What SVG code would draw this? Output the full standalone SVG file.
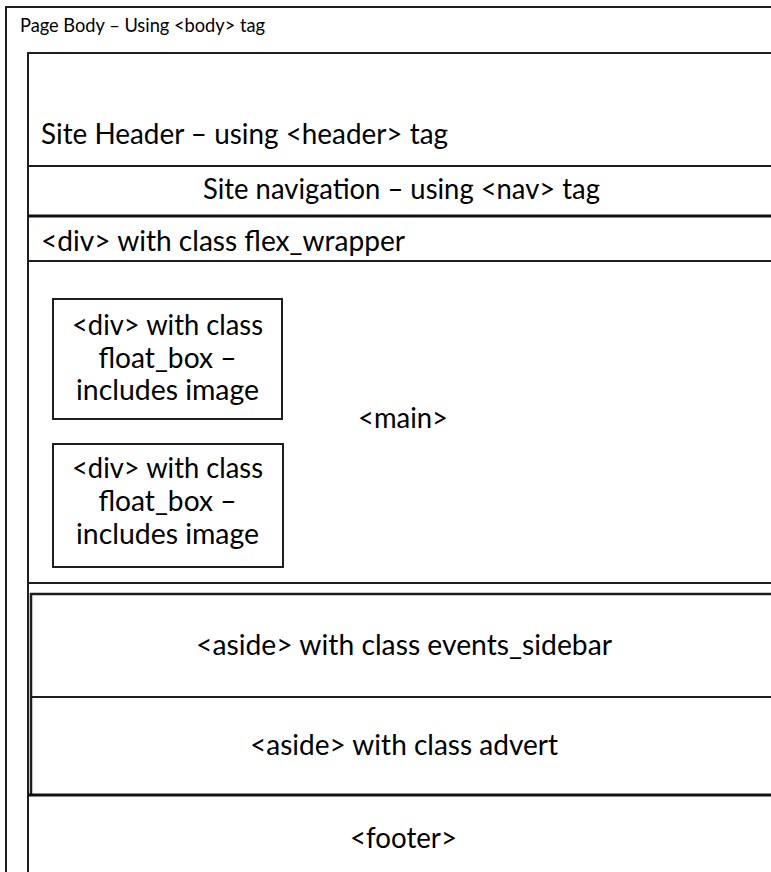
<svg xmlns="http://www.w3.org/2000/svg" width="771" height="872" viewBox="0 0 771 872">
<style>
.ln{fill:none;stroke:#1e1e1e;stroke-width:2}
.thk{fill:none;stroke:#111;stroke-width:3}
.t{font-family:Lato,"Open Sans","Liberation Sans",sans-serif;font-size:29px;fill:#000}
.ttl{font-family:Lato,"Open Sans","Liberation Sans",sans-serif;font-size:19px;fill:#000}
.c{text-anchor:middle}
</style>
<rect width="771" height="872" fill="#fff"/>
<g id="body">
<path class="ln" d="M6,872 V7 H771"/>
<text class="ttl" x="20" y="32" textLength="245" lengthAdjust="spacingAndGlyphs">Page Body – Using &lt;body&gt; tag</text>
</g>
<g id="inner">
<path class="ln" d="M28,872 V53 H771"/>
</g>
<g id="header">
<text class="t" x="41" y="144" textLength="407" lengthAdjust="spacingAndGlyphs">Site Header – using &lt;header&gt; tag</text>
</g>
<g id="nav">
<line class="ln" x1="28" y1="166" x2="771" y2="166"/>
<text class="t" x="203" y="199" textLength="397" lengthAdjust="spacingAndGlyphs">Site navigation – using &lt;nav&gt; tag</text>
</g>
<g id="flex_wrapper">
<line class="thk" x1="28" y1="216" x2="771" y2="216"/>
<text class="t" x="41" y="251" textLength="364" lengthAdjust="spacingAndGlyphs">&lt;div&gt; with class flex_wrapper</text>
</g>
<g id="main">
<line class="ln" x1="28" y1="261" x2="771" y2="261"/>
<text class="t c" x="403" y="428" textLength="90" lengthAdjust="spacingAndGlyphs">&lt;main&gt;</text>
<line class="ln" x1="28" y1="583" x2="771" y2="583"/>
</g>
<g id="float_box_1">
<rect class="ln" x="53" y="299" width="229" height="120"/>
<text class="t c" x="167.5" y="335" textLength="191" lengthAdjust="spacingAndGlyphs">&lt;div&gt; with class</text>
<text class="t c" x="167.5" y="368" textLength="138" lengthAdjust="spacingAndGlyphs">float_box –</text>
<text class="t c" x="167.5" y="400" textLength="183" lengthAdjust="spacingAndGlyphs">includes image</text>
</g>
<g id="float_box_2">
<rect class="ln" x="53" y="444" width="230" height="123"/>
<text class="t c" x="167.5" y="478" textLength="191" lengthAdjust="spacingAndGlyphs">&lt;div&gt; with class</text>
<text class="t c" x="167.5" y="511" textLength="138" lengthAdjust="spacingAndGlyphs">float_box –</text>
<text class="t c" x="167.5" y="544" textLength="183" lengthAdjust="spacingAndGlyphs">includes image</text>
</g>
<g id="aside_events">
<path class="ln" d="M31,795 V594 H771" style="stroke-width:2.5"/>
<text class="t" x="196" y="655" textLength="416" lengthAdjust="spacingAndGlyphs">&lt;aside&gt; with class events_sidebar</text>
</g>
<g id="aside_advert">
<line class="ln" x1="31" y1="697" x2="771" y2="697"/>
<text class="t" x="250" y="755" textLength="308" lengthAdjust="spacingAndGlyphs">&lt;aside&gt; with class advert</text>
</g>
<g id="footer">
<line class="thk" x1="28" y1="795" x2="771" y2="795"/>
<text class="t" x="350" y="848" textLength="107" lengthAdjust="spacingAndGlyphs">&lt;footer&gt;</text>
</g>
<g id="connectors"/>
</svg>
